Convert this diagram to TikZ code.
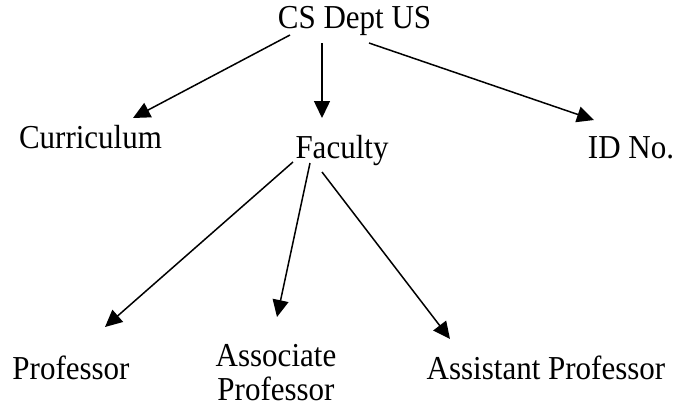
\documentclass[tikz,border=0pt]{standalone}
\usepackage{fontspec}
\usepackage{graphicx}
\setmainfont{Liberation Serif}
\usetikzlibrary{arrows.meta}
\newcommand{\tallt}[1]{\scalebox{1}[1.08]{#1}}
\begin{document}
\begin{tikzpicture}[x=1pt,y=-1pt,
  lbl/.style={inner sep=0pt,anchor=base,font=\fontsize{31}{34}\selectfont},
  arr/.style={line width=1.5pt,-{Triangle[length=17pt,width=16pt]}}]
\useasboundingbox (0,0) rectangle (677,408);
\node[lbl] (cs) at (354.5,28) {\tallt{CS Dept US}};
\node[lbl] (cur) at (90.5,148) {\tallt{Curriculum}};
\node[lbl] (fac) at (342,158) {\tallt{Faculty}};
\node[lbl] (id) at (631,158) {\tallt{ID No.}};
\node[lbl] (prof) at (71,379) {\tallt{Professor}};
\node[lbl,align=center] (assoc) at (276,400) {\tallt{Associate}\\\tallt{Professor}};
\node[lbl] (asst) at (546,379) {\tallt{Assistant Professor}};
% connector end points
\coordinate (csL) at (290,35);
\coordinate (csM) at (322,43);
\coordinate (csR) at (369,43);
\coordinate (curT) at (133,118);
\coordinate (facT) at (322,118);
\coordinate (idT) at (594,120);
\coordinate (facL) at (293,162);
\coordinate (facM) at (310,163);
\coordinate (facR) at (322,172);
\coordinate (profT) at (105,327);
\coordinate (assocT) at (277,317);
\coordinate (asstT) at (450,339);
\draw[arr] (csL) -- (curT);
\draw[arr] (csM) -- (facT);
\draw[arr] (csR) -- (idT);
\draw[arr] (facL) -- (profT);
\draw[arr] (facM) -- (assocT);
\draw[arr] (facR) -- (asstT);
\end{tikzpicture}
\end{document}
